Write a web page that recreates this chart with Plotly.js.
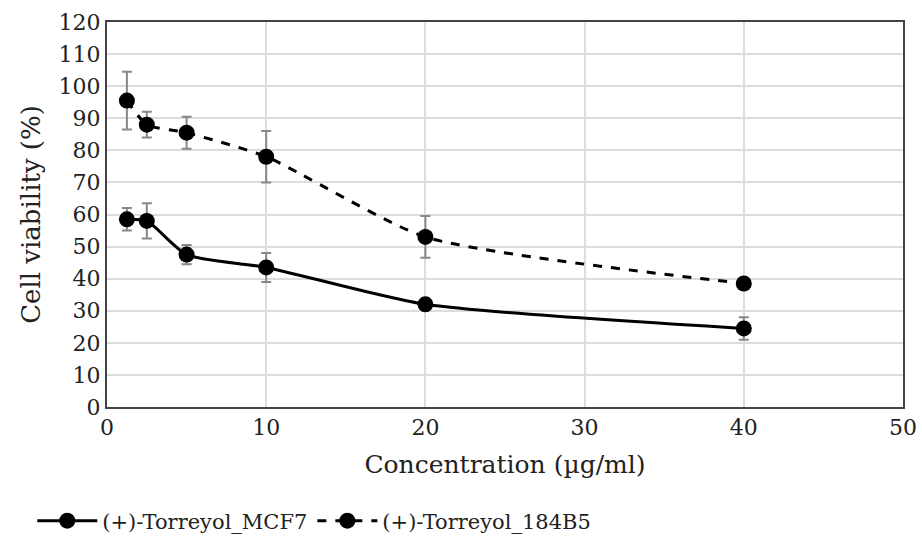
<!DOCTYPE html>
<html>
<head>
<meta charset="utf-8">
<script src="https://cdn.plot.ly/plotly-3.0.1.min.js"></script>
<style>html,body{margin:0;padding:0;background:#fff;}#chart{width:922px;height:536px;}</style>
</head>
<body>
<div id="chart"></div>
<script>
const concentrations = [1.25, 2.5, 5, 10, 20, 40];
const mcf7Values = [58.5, 58, 47.5, 43.5, 32, 24.5];
const mcf7Errors = [3.5, 5.5, 3, 4.5, 1, 3.5];
const b5Values = [95.5, 88, 85.5, 78, 53, 38.5];
const b5Errors = [9, 4, 5, 8, 6.5, 1];
const seriesNames = ['(+)-Torreyol_MCF7', '(+)-Torreyol_184B5'];
const xTicks = [0, 10, 20, 30, 40, 50];
const yTicks = [0, 10, 20, 30, 40, 50, 60, 70, 80, 90, 100, 110, 120];

const serif = 'DejaVu Serif';
function trace(name, y, err, dash) {
  return {
    x: concentrations, y: y, name: name, type: 'scatter', mode: 'lines+markers',
    line: {color: '#000', width: 3, dash: dash, shape: 'spline', smoothing: 0.6},
    marker: {color: '#000', size: 16, symbol: 'circle'},
    error_y: {type: 'data', array: err, visible: true, color: '#888', thickness: 2, width: 5}
  };
}
const data = [
  trace(seriesNames[0], mcf7Values, mcf7Errors, 'solid'),
  trace(seriesNames[1], b5Values, b5Errors, 'dash')
];
const layout = {
  width: 922, height: 536,
  margin: {l: 107, r: 19, t: 22, b: 129, autoexpand: false},
  paper_bgcolor: '#fff', plot_bgcolor: '#fff',
  font: {family: serif, color: '#222', size: 20},
  showlegend: true,
  legend: {orientation: 'h', x: 0.035, xanchor: 'left', xref: 'container',
           y: 0.028, yanchor: 'middle', yref: 'container',
           font: {family: serif, size: 21, color: '#222'}, itemwidth: 60},
  xaxis: {
    range: [0, 50], tickvals: xTicks, ticktext: xTicks.map(String),
    showgrid: true, gridcolor: '#dcdcdc', gridwidth: 2,
    showline: true, linecolor: '#444', linewidth: 2, mirror: true,
    zeroline: false, ticks: '', tickfont: {size: 22, family: serif},
    title: {text: 'Concentration (µg/ml)', font: {size: 25, family: serif}, standoff: 16}
  },
  yaxis: {
    range: [0, 120], tickvals: yTicks, ticktext: yTicks.map(String),
    showgrid: true, gridcolor: '#dcdcdc', gridwidth: 2,
    showline: true, linecolor: '#444', linewidth: 2, mirror: true,
    zeroline: false, ticks: '', tickfont: {size: 22, family: serif},
    title: {text: 'Cell viability (%)', font: {size: 26, family: serif}, standoff: 10}
  }
};
Plotly.newPlot('chart', data, layout, {staticPlot: true, displayModeBar: false});
</script>
</body>
</html>
